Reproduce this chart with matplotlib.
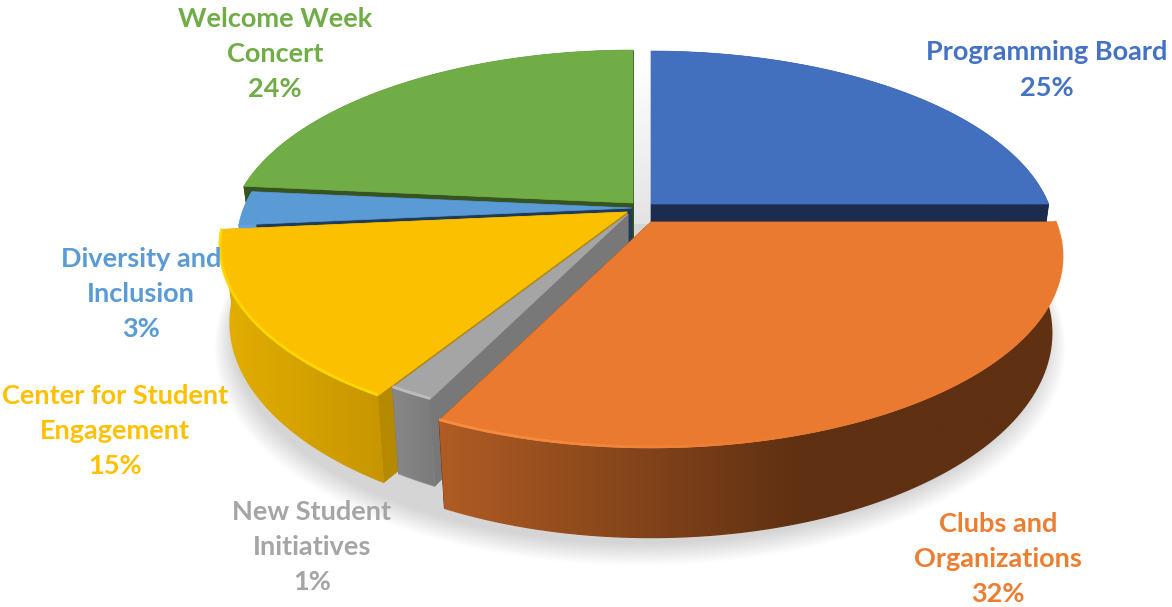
import numpy as np
import matplotlib
matplotlib.use('Agg')
import matplotlib.pyplot as plt
from matplotlib.collections import LineCollection
from matplotlib.colors import to_rgb
from matplotlib.patches import Polygon

# ---- data
names = ['Programming Board', 'Clubs and\nOrganizations', 'New Student\nInitiatives',
         'Center for Student\nEngagement', 'Diversity and\nInclusion', 'Welcome Week\nConcert']
values = [25, 32.2, 1.6, 14.7, 3, 23.5]
pct_labels = ['25%', '32%', '1%', '15%', '3%', '24%']

top_colors = ['#4270BF', '#EA7A30', '#A5A5A5', '#FBC000', '#5B9BD5', '#70AD47']
text_colors = ['#4472C4', '#ED7D31', '#A5A5A5', '#FFC000', '#5B9BD5', '#70AD47']
cut_colors = ['#1B2C50', '#5F3012', '#787878', '#B58900', '#1F3B5A', '#37541F']
# side wall colour at the left and right screen end, and where the ramp ends
wall_left = ['#1B2C50', '#B05C24', '#888888', '#E2AE00', '#5BA3E6', '#37541F']
wall_right = ['#1B2C50', '#5F3012', '#7C7C7C', '#C79500', '#5BA3E6', '#37541F']
ramp = [(650, 1050), (440, 800), (390, 430), (225, 385), (235, 250), (240, 250)]
shine = [None, '#F58C42', '#C8C8C8', '#FFD800', None, None]

# ---- layout, pixels
explode_tip = [(651, 204), (651, 222), (628, 214), (627, 212), (632, 208), (633, 203)]
radius = [0.97, 0.985, 0.93, 0.976, 0.947, 0.97]
label_pos = [(1047, 70), (998, 559), (312, 547), (115, 431), (141, 294), (275, 54)]
draw_order = [0, 5, 4, 3, 2, 1]

RX, RY, PERSP = 410, 186.6, 0.189
DEPTH, SHRINK = 73, 0.975
N = 90

fig = plt.figure(figsize=(11.72, 6.07), dpi=100)
ax = fig.add_axes([0, 0, 1, 1])
ax.axis('off')


def project(theta, s=1.0):
    # theta clockwise from 12 o'clock, s radial scale
    u, v = np.sin(theta) * s, -np.cos(theta) * s
    d = 1 - PERSP * v
    return RX * u / d, RY * v / d, DEPTH / d


def ramp_color(x, i):
    t = np.clip((x - ramp[i][0]) / (ramp[i][1] - ramp[i][0]), 0, 1)
    c0, c1 = np.array(to_rgb(wall_left[i])), np.array(to_rgb(wall_right[i]))
    return c0[None, :] + (c1 - c0)[None, :] * t[:, None]


edges = np.cumsum([0] + values) / sum(values) * 2 * np.pi

# soft shadow under the pie
th = np.linspace(0, 2 * np.pi, 300)
px, py, pd = project(th)
for g in range(14):
    sc = 1.0 + g * 0.0035
    ax.fill(640 + px * SHRINK * sc, 224 + g * 0.5 + (py + pd) * sc, color='k',
            alpha=0.012, lw=0, zorder=1)

# light band in the gap behind the exploded slices
band = np.linspace(1, 0.89, 100).reshape(-1, 1)
ax.imshow(band, cmap='gray', vmin=0, vmax=1, extent=(633, 651, 224, 60), aspect='auto', zorder=2)

z = 3
for i in draw_order:
    tx, ty = explode_tip[i]
    th = np.linspace(edges[i], edges[i + 1], N)
    x, y, d = project(th, radius[i])
    ox, oy = tx + x, ty + y
    bx, by = tx + x * SHRINK, ty + y + d

    # cut walls
    for k in (0, -1):
        wall = [(tx, ty), (ox[k], oy[k]), (bx[k], by[k]), (tx, ty + DEPTH)]
        ax.fill(*zip(*wall), color=cut_colors[i], lw=0.5, zorder=z)

    # outer wall, a horizontal ramp clipped to the wall outline
    x0, x1 = min(ox.min(), bx.min()) - 2, max(ox.max(), bx.max()) + 2
    y0, y1 = min(oy.min(), by.min()) - 2, max(oy.max(), by.max()) + 2
    xs = np.linspace(x0, x1, 400)
    img = ax.imshow(ramp_color(xs, i)[None, :, :], extent=(x0, x1, y1, y0), aspect='auto',
                    interpolation='bilinear', zorder=z + 0.1)
    outline = Polygon(np.c_[np.r_[ox, bx[::-1]], np.r_[oy, by[::-1]]], closed=True,
                      transform=ax.transData, fill=False, lw=0)
    ax.add_patch(outline)
    img.set_clip_path(outline)
    # smooth the lower silhouette
    segs = [[(bx[j], by[j]), (bx[j + 1], by[j + 1])] for j in range(N - 1)]
    ax.add_collection(LineCollection(segs, colors=ramp_color(bx[:-1], i), linewidths=1, zorder=z + 0.15))

    # top face
    ax.fill(np.r_[tx, ox], np.r_[ty, oy], color=top_colors[i], lw=0.5, zorder=z + 0.2)

    # bevel highlight along the rim of the front slices, fading to the right
    if shine[i]:
        base, hi = np.array(to_rgb(top_colors[i])), np.array(to_rgb(shine[i]))
        segs = [[(ox[j], oy[j] - 1), (ox[j + 1], oy[j + 1] - 1)] for j in range(N - 1)]
        fade = np.clip((800 - ox[:-1]) / 300, 0, 1)
        lc = base[None, :] + (hi - base)[None, :] * fade[:, None]
        ax.add_collection(LineCollection(segs, colors=lc, linewidths=2, zorder=z + 0.3))
    z += 1

# labels
plt.rcParams['font.family'] = 'Lato'
for i in range(len(names)):
    ax.text(label_pos[i][0], label_pos[i][1], names[i] + '\n' + pct_labels[i], color=text_colors[i],
            fontsize=19.5, fontweight='bold', ha='center', va='center', multialignment='center',
            linespacing=1.55, zorder=20)

ax.set_xlim(0, 1172)
ax.set_ylim(607, 0)
fig.savefig('out.png', dpi=100)
